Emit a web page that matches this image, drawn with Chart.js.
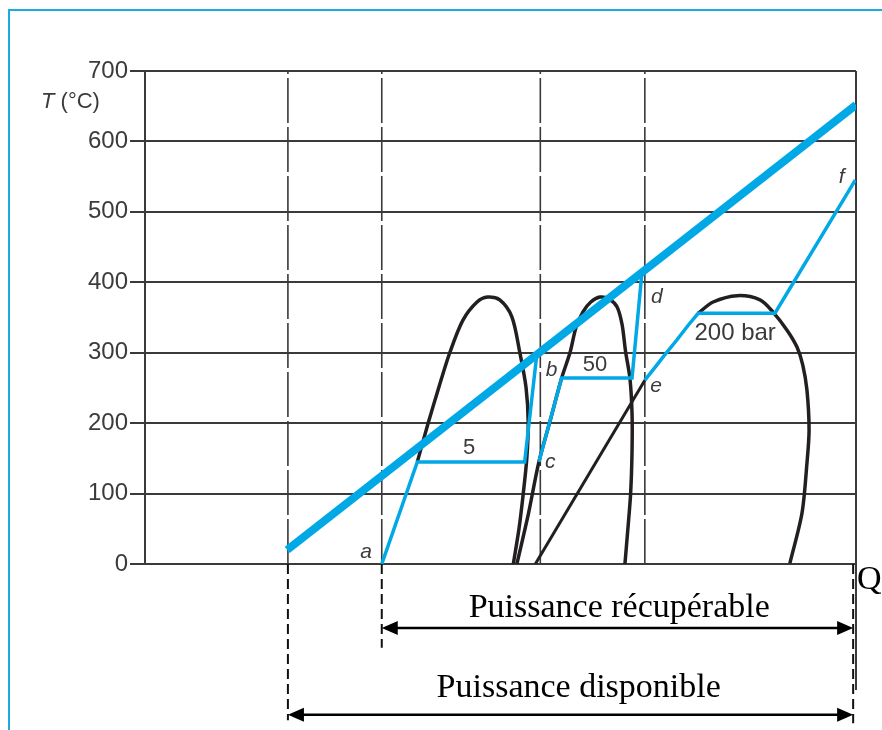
<!DOCTYPE html>
<html>
<head>
<meta charset="utf-8">
<script src="https://cdn.jsdelivr.net/npm/chart.js@4.4.0/dist/chart.umd.min.js"></script>
<style>
  body { margin: 0; background: #fff; }
  #wrap { width: 882px; height: 730px; }
</style>
</head>
<body>
<div id="wrap"><canvas id="chart" width="882" height="730"></canvas></div>
<script>
// Temperature ticks (°C)
const tempTicks = [0, 100, 200, 300, 400, 500, 600, 700];

// Hot gas cooling line (Q in arbitrary units 0..100)
const gasQ = [20, 100];
const gasT = [20, 652];

// Water / steam lines at 5, 50 and 200 bar
const line5Q = [33.3, 38.3, 53.4, 55.1];
const line5T = [0, 145, 145, 297];
const line50Q = [55.4, 58.6, 68.5, 69.9];
const line50T = [145, 264, 264, 415];
const line200Q = [70.3, 71.4, 73.1, 74.8, 76.4, 77.8, 88.6, 99.9];
const line200T = [261, 275, 297, 318, 339, 356, 356, 545];

// Saturation curves
const dome1Q = [38.3, 39.8, 41.3, 42.9, 44.7, 46.7, 48.2, 49.9, 51.6, 52.7, 53.6, 53.9, 53.7, 53.2, 52.6, 51.8];
const dome1T = [145, 199, 250, 301, 346, 372, 379, 375, 351, 301, 250, 200, 150, 100, 50, 0];
const dome2Q = [52.3, 53.9, 55.4, 57.0, 58.6, 59.8, 60.6, 61.6, 62.7, 64.0, 65.3, 66.4, 67.1, 67.6, 68.2, 68.5, 68.5, 68.3, 67.9, 67.5];
const dome2T = [0, 70, 145, 204, 264, 301, 335, 358, 372, 379, 376, 365, 340, 301, 264, 214, 160, 100, 48, 0];
const dome3Q = [77.8, 79.9, 83.3, 86.5, 88.3, 90.3, 91.7, 92.5, 93.1, 93.4, 93.1, 92.4, 90.7];
const dome3T = [356, 372, 381, 375, 358, 332, 308, 283, 247, 190, 143, 72, 1];
const liquid200Q = [54.9, 70.3];
const liquid200T = [0, 261];

// Vertical guides
const guideQ = [20.1, 33.3, 55.6, 70.3];
const dropQ = [20.1, 33.3, 99.6];
const dropEndT = [-222, -119, -226];
const edgeQ = 100;
const edgeEndT = -179;

// Power arrows below the axis
const arrowFromQ = [33.3, 20.1];
const arrowToQ = [99.6, 99.6];
const arrowT = [-91, -214];
const captionText = ['Puissance récupérable', 'Puissance disponible'];
const captionQ = [66.7, 61.0];
const captionT = [-75, -189];

// Point labels
const labelText = ['a', 'b', 'c', 'd', 'e', 'f'];
const labelQ = [31.1, 57.2, 57.0, 72.0, 71.9, 98.0];
const labelT = [17, 275, 145, 379, 253, 549];
const pressText = ['5', '50', '200 bar'];
const pressQ = [45.6, 63.3, 83.0];
const pressT = [165, 283, 327];

const BLUE = '#00a8e6';
const INK = '#231f20';
const GRID = '#3a3a3a';

function pts(qs, ts) {
    return qs.map((q, i) => ({ x: q, y: ts[i] }));
}

function lineSet(data, color, width, extra) {
    return Object.assign({
        data: data,
        showLine: true,
        borderColor: color,
        borderWidth: width,
        pointRadius: 0,
        fill: false,
        tension: 0
    }, extra || {});
}

const datasets = [];

// dashed guides inside the plot
guideQ.forEach(q => {
    datasets.push(lineSet(pts([q, q], [0, 700]), GRID, 1.6, { borderDash: [45, 4], order: 6 }));
});
// dashed drops below the axis
dropQ.forEach((q, i) => {
    datasets.push(lineSet(pts([q, q], [0, dropEndT[i]]), '#111', 2, { borderDash: [10, 5], order: 6, clip: false }));
});
// right edge of the plot
datasets.push(lineSet(pts([edgeQ, edgeQ], [700, edgeEndT]), GRID, 2, { order: 6, clip: false }));

datasets.push(lineSet(pts(dome1Q, dome1T), INK, 3.5, { tension: 0.3, order: 4 }));
datasets.push(lineSet(pts(dome2Q, dome2T), INK, 3.5, { tension: 0.3, order: 4 }));
datasets.push(lineSet(pts(dome3Q, dome3T), INK, 3.5, { tension: 0.3, order: 4 }));
datasets.push(lineSet(pts(liquid200Q, liquid200T), INK, 3, { order: 4 }));

datasets.push(lineSet(pts(line5Q, line5T), BLUE, 3.5, { order: 2 }));
datasets.push(lineSet(pts(line50Q, line50T), BLUE, 3.5, { order: 2 }));
datasets.push(lineSet(pts(line200Q, line200T), BLUE, 3.5, { order: 2 }));
datasets.push(lineSet(pts(gasQ, gasT), BLUE, 8, { order: 1, borderCapStyle: 'butt' }));

// blue frame + texts + arrows
const decorPlugin = {
    id: 'decor',
    beforeDraw(chart) {
        const ctx = chart.ctx;
        ctx.save();
        ctx.fillStyle = '#fff';
        ctx.fillRect(0, 0, chart.width, chart.height);
        ctx.strokeStyle = '#1fa9e1';
        ctx.lineWidth = 2;
        ctx.beginPath();
        ctx.moveTo(9, chart.height);
        ctx.lineTo(9, 10);
        ctx.lineTo(chart.width, 10);
        ctx.stroke();
        ctx.restore();
    },
    afterDraw(chart) {
        const ctx = chart.ctx;
        const xs = chart.scales.x, ys = chart.scales.y;
        const area = chart.chartArea;
        ctx.save();

        // axis title
        ctx.fillStyle = '#3b3b3b';
        ctx.textBaseline = 'alphabetic';
        ctx.textAlign = 'left';
        ctx.font = 'italic 22px "Liberation Sans", Arial, sans-serif';
        ctx.fillText('T', 41, area.top + 37);
        const tw = ctx.measureText('T').width;
        ctx.font = '22px "Liberation Sans", Arial, sans-serif';
        ctx.fillText(' (°C)', 41 + tw, area.top + 37);

        // point labels
        ctx.textAlign = 'center';
        ctx.textBaseline = 'middle';
        ctx.font = 'italic 21px "Liberation Sans", Arial, sans-serif';
        labelText.forEach((t, i) => {
            ctx.fillText(t, xs.getPixelForValue(labelQ[i]), ys.getPixelForValue(labelT[i]));
        });
        pressText.forEach((t, i) => {
            ctx.font = (i === 2 ? '24px' : '22px') + ' "Liberation Sans", Arial, sans-serif';
            ctx.fillText(t, xs.getPixelForValue(pressQ[i]), ys.getPixelForValue(pressT[i]));
        });

        // arrows
        ctx.strokeStyle = '#000';
        ctx.fillStyle = '#000';
        ctx.lineWidth = 2.5;
        arrowT.forEach((t, i) => {
            const y = ys.getPixelForValue(t);
            const x0 = xs.getPixelForValue(arrowFromQ[i]);
            const x1 = xs.getPixelForValue(arrowToQ[i]);
            ctx.beginPath();
            ctx.moveTo(x0 + 10, y);
            ctx.lineTo(x1 - 10, y);
            ctx.stroke();
            ctx.beginPath();
            ctx.moveTo(x0, y);
            ctx.lineTo(x0 + 16, y - 7);
            ctx.lineTo(x0 + 16, y + 7);
            ctx.closePath();
            ctx.fill();
            ctx.beginPath();
            ctx.moveTo(x1, y);
            ctx.lineTo(x1 - 16, y - 7);
            ctx.lineTo(x1 - 16, y + 7);
            ctx.closePath();
            ctx.fill();
        });

        // captions
        ctx.textAlign = 'center';
        ctx.textBaseline = 'alphabetic';
        ctx.font = '34px "Liberation Serif", "Times New Roman", serif';
        captionText.forEach((t, i) => {
            ctx.fillText(t, xs.getPixelForValue(captionQ[i]), ys.getPixelForValue(captionT[i]));
        });
        ctx.textAlign = 'left';
        ctx.fillText('Q', xs.getPixelForValue(100) + 1, ys.getPixelForValue(0) + 25);

        ctx.restore();
    }
};

new Chart(document.getElementById('chart'), {
    type: 'scatter',
    data: { datasets: datasets },
    plugins: [decorPlugin],
    options: {
        responsive: false,
        animation: false,
        layout: { padding: { left: 0, top: 71, right: 26, bottom: 166 } },
        plugins: { legend: { display: false }, tooltip: { enabled: false } },
        scales: {
            x: { type: 'linear', min: 0, max: 100, display: false },
            y: {
                type: 'linear',
                min: 0,
                max: 700,
                afterFit: s => { s.width = 145; },
                afterBuildTicks: s => { s.ticks = tempTicks.map(v => ({ value: v })); },
                ticks: {
                    color: '#3b3b3b',
                    padding: 2,
                    font: { family: '"Liberation Sans", Arial, sans-serif', size: 24 }
                },
                grid: { color: GRID, lineWidth: 2, tickLength: 15, drawTicks: true },
                border: { display: true, color: GRID, width: 2 }
            }
        }
    }
});
</script>
</body>
</html>
